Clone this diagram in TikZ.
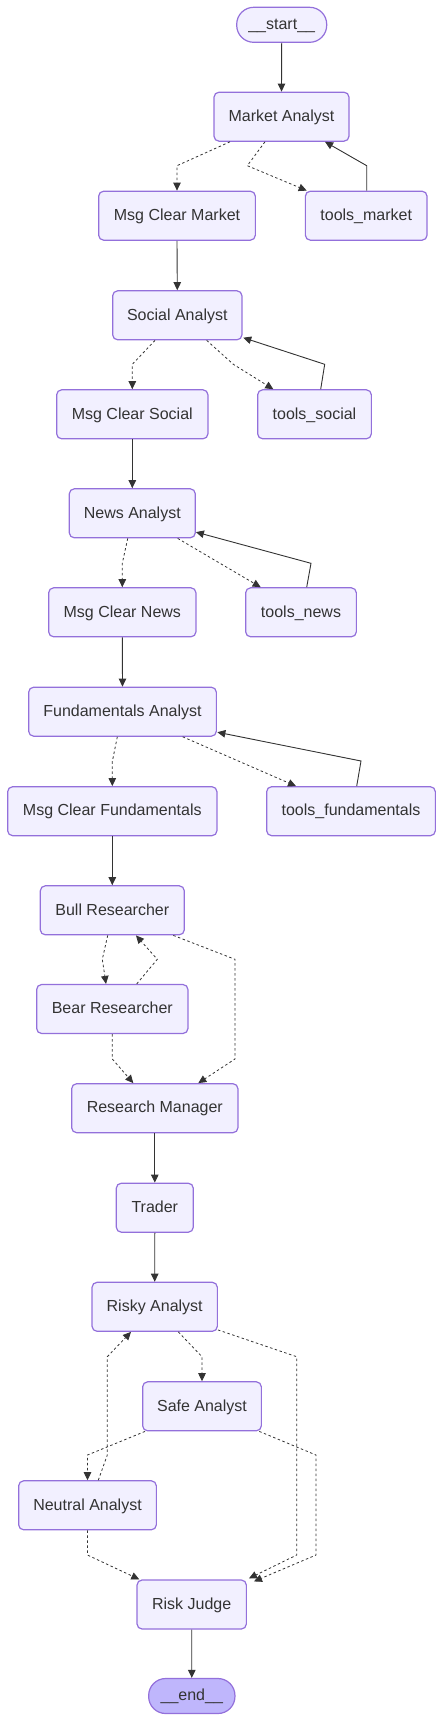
\documentclass[tikz,border=0pt]{standalone}
\usepackage{fontspec}
\setmainfont{Liberation Sans}
\usetikzlibrary{arrows.meta}
\definecolor{nodefill}{HTML}{F2F0FF}
\definecolor{nodedraw}{HTML}{9370DB}
\definecolor{endfill}{HTML}{BFB6FC}
\definecolor{edgecol}{HTML}{333333}
\tikzset{
  box/.style={draw=nodedraw, fill=nodefill, line width=1.2pt, rounded corners=5pt,
    minimum height=49pt, inner sep=0pt, text=edgecol, text height=12pt, text depth=2.5pt,
    font=\fontsize{16}{19}\selectfont},
  pill/.style={box, rounded corners=17pt, minimum height=35pt},
  edge/.style={draw=edgecol, line width=0.9pt, -{Triangle[length=8pt,width=7.5pt]}},
  dedge/.style={edge, line width=0.8pt, dash pattern=on 2.5pt off 2.5pt},
}
\begin{document}
\begin{tikzpicture}[x=1pt,y=-1pt]
\useasboundingbox (0,0) rectangle (444,1721);
% nodes
\node[pill, minimum width=90pt] (start) at (281.7,24.8) {\_\_start\_\_};
\node[box, minimum width=135pt] (ma) at (281.5,116.7) {Market Analyst};
\node[box, minimum width=156.7pt] (mcm) at (177,215.7) {Msg Clear Market};
\node[box, minimum width=121.7pt] (tm) at (366.2,215.7) {tools\_market};
\node[box, minimum width=129.3pt] (sa) at (177.3,315.3) {Social Analyst};
\node[box, minimum width=151.3pt] (mcs) at (132.3,414.3) {Msg Clear Social};
\node[box, minimum width=113.7pt] (ts) at (314.5,414.3) {tools\_social};
\node[box, minimum width=126pt] (na) at (132.3,513.3) {News Analyst};
\node[box, minimum width=147.3pt] (mcn) at (122.3,612.3) {Msg Clear News};
\node[box, minimum width=110.7pt] (tn) at (301,612.3) {tools\_news};
\node[box, minimum width=187.7pt] (fa) at (122.5,711.7) {Fundamentals Analyst};
\node[box, minimum width=209.3pt] (mcf) at (112.3,811.2) {Msg Clear Fundamentals};
\node[box, minimum width=168.7pt] (tf) at (351,811.2) {tools\_fundamentals};
\node[box, minimum width=144pt] (bull) at (112.3,910.3) {Bull Researcher};
\node[box, minimum width=151.3pt] (bear) at (112.3,1009) {Bear Researcher};
\node[box, minimum width=166.3pt] (rm) at (154.8,1108.2) {Research Manager};
\node[box, minimum width=77pt] (tr) at (154.8,1207.7) {Trader};
\node[box, minimum width=125.3pt] (ra) at (154.7,1306.8) {Risky Analyst};
\node[box, minimum width=118.7pt] (safe) at (202,1406.3) {Safe Analyst};
\node[box, minimum width=137.7pt] (neu) at (87.5,1505.3) {Neutral Analyst};
\node[box, minimum width=109.3pt] (rj) at (191.7,1604.5) {Risk Judge};
\node[pill, fill=endfill, minimum width=86.3pt] (end) at (191.8,1696) {\_\_end\_\_};
% edges
\draw[edge] (start.south) -- (ma.north);
\draw[dedge] ([xshift=-51.5pt]ma.south) -- (177,165.7) -- (mcm.north);
\draw[dedge] ([xshift=-16.5pt]ma.south) -- (247.3,165.7) -- ([xshift=-59.5pt]tm.north);
\draw[edge] ([xshift=0.5pt]tm.north) -- (366.7,165.7) -- ([xshift=43.5pt]ma.south);
\draw[edge] (mcm.south) -- (sa.north);
\draw[dedge] ([xshift=-22.3pt]sa.south) -- (132.3,364.3) -- (mcs.north);
\draw[dedge] ([xshift=29.4pt]sa.south) -- (233.3,364.3) -- ([xshift=-41.2pt]ts.north);
\draw[edge] ([xshift=6.2pt]ts.north) -- (324.7,364.3) -- ([xshift=0.7pt,yshift=2.7pt]sa.south east);
\draw[edge] (mcs.south) -- (na.north);
\draw[dedge] ([xshift=-4.6pt]na.south) -- (122.3,563.3) -- (mcn.north);
\draw[dedge] ([xshift=45.4pt]na.south) -- (220,563.3) -- ([xshift=-40.3pt]tn.north);
\draw[edge] ([xshift=5.7pt]tn.north) -- (311,563.3) -- ([yshift=6.3pt]na.south east);
\draw[edge] (mcn.south) -- (fa.north);
\draw[dedge] ([xshift=-5.2pt]fa.south) -- (112.3,761.7) -- (mcf.north);
\draw[dedge] ([xshift=60.2pt]fa.south) -- ([xshift=-55pt]tf.north);
\draw[edge] ([xshift=5.7pt]tf.north) -- (361,761) -- ([xshift=0.4pt,yshift=4.6pt]fa.south east);
\draw[edge] (mcf.south) -- (bull.north);
\draw[dedge] ([xshift=-4.6pt]bull.south) -- (102.3,959.3) -- ([xshift=-6.3pt]bear.north);
\draw[dedge] ([xshift=24.4pt]bear.north) -- (157.3,959.3) -- ([xshift=23.7pt]bull.south);
\draw[dedge] ([xshift=61pt]bull.south) -- (235,959.3) -- (235,1059) -- ([xshift=43.5pt]rm.north);
\draw[dedge] (bear.south) -- (112.3,1059) -- ([xshift=-21.5pt]rm.north);
\draw[edge] (rm.south) -- (tr.north);
\draw[edge] (tr.south) -- (ra.north);
\draw[dedge] ([xshift=23.6pt]ra.south) -- (202,1356.7) -- (safe.north);
\draw[dedge] ([yshift=2pt]ra.south east) -- (296.7,1356.7) -- (296.7,1555) -- ([xshift=2pt,yshift=1pt]rj.north east);
\draw[dedge] ([xshift=10.8pt]neu.north) -- (107.3,1455) -- (107.3,1356.7) -- ([xshift=-23.7pt]ra.south);
\draw[dedge] ([xshift=-57pt]safe.south) -- (87.5,1455) -- (neu.north);
\draw[dedge] ([xshift=57.3pt]safe.south) -- (316,1455) -- (316,1555) -- ([xshift=7pt,yshift=-2pt]rj.north east);
\draw[dedge] (neu.south) -- (87.5,1555) -- ([xshift=-52.4pt]rj.north);
\draw[edge] (rj.south) -- (end.north);
\end{tikzpicture}
\end{document}
